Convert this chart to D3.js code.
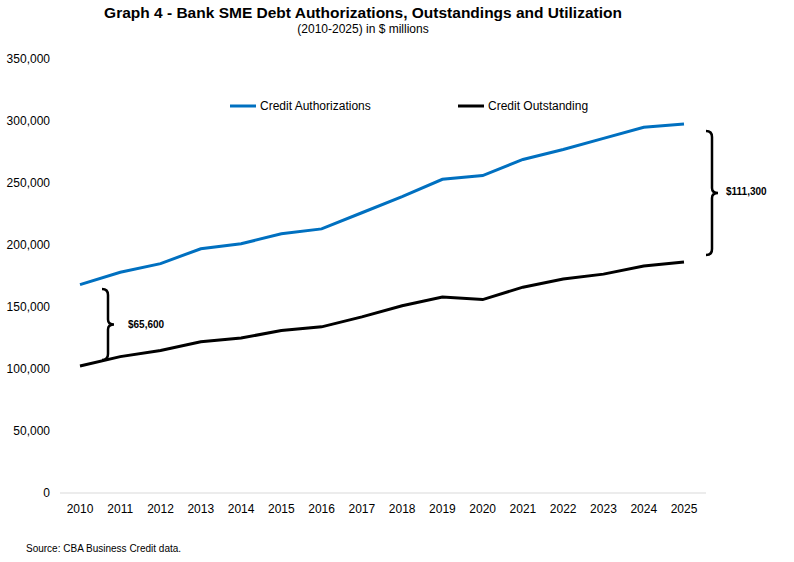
<!DOCTYPE html><html><head><meta charset="utf-8"><script src="https://cdn.jsdelivr.net/npm/d3@7"></script>
<style>body{margin:0;background:#fff;font-family:Arial,"Liberation Sans",sans-serif}</style></head><body><svg id="c" width="794" height="562"></svg>
<script>
const years=[2010,2011,2012,2013,2014,2015,2016,2017,2018,2019,2020,2021,2022,2023,2024,2025];
const authorizations=[168000,178000,185000,197000,201000,209000,213000,226000,239000,253000,256000,269000,277000,286000,295000,297500];
const outstanding=[102400,110000,115000,122000,125000,131000,134000,142000,151000,158000,156000,166000,172500,176500,183000,186200];
const yTicks=[0,50000,100000,150000,200000,250000,300000,350000];
const svg=d3.select("#c");
const x=d3.scalePoint().domain(years).range([80,684]);
const y=d3.scaleLinear().domain([0,350000]).range([493,59]);
svg.append("text").attr("x",363).attr("y",18).attr("text-anchor","middle").attr("font-size",15.5).attr("font-weight","bold").text("Graph 4 - Bank SME Debt Authorizations, Outstandings and Utilization");
svg.append("text").attr("x",363).attr("y",33).attr("text-anchor","middle").attr("font-size",12).text("(2010-2025)  in $ millions");
yTicks.forEach(t=>svg.append("text").attr("x",50).attr("y",y(t)+4).attr("text-anchor","end").attr("font-size",12).text(d3.format(",")(t)));
svg.append("line").attr("x1",60).attr("x2",706).attr("y1",493).attr("y2",493).attr("stroke","#d9d9d9");
years.forEach(v=>svg.append("text").attr("x",x(v)).attr("y",513).attr("text-anchor","middle").attr("font-size",12).text(v));
const line=d3.line().x((d,i)=>x(years[i])).y(d=>y(d));
svg.append("path").attr("d",line(authorizations)).attr("fill","none").attr("stroke","#0070c0").attr("stroke-width",3);
svg.append("path").attr("d",line(outstanding)).attr("fill","none").attr("stroke","#000").attr("stroke-width",3);
// legend
svg.append("line").attr("x1",230).attr("x2",256).attr("y1",106).attr("y2",106).attr("stroke","#0070c0").attr("stroke-width",3);
svg.append("text").attr("x",260).attr("y",110).attr("font-size",12).text("Credit Authorizations");
svg.append("line").attr("x1",458).attr("x2",484).attr("y1",106).attr("y2",106).attr("stroke","#000").attr("stroke-width",3);
svg.append("text").attr("x",488).attr("y",110).attr("font-size",12).text("Credit Outstanding");
// braces
function brace(xp,y1,y2,dir){const m=(y1+y2)/2,w=6*dir;
return `M${xp-w},${y1} Q${xp},${y1} ${xp},${y1+6} L${xp},${m-5} Q${xp},${m} ${xp+w},${m} Q${xp},${m} ${xp},${m+5} L${xp},${y2-6} Q${xp},${y2} ${xp-w},${y2}`;}
svg.append("path").attr("d",brace(108,289,360,1)).attr("fill","none").attr("stroke","#000").attr("stroke-width",2.5);
svg.append("text").attr("x",128).attr("y",328).attr("font-size",10).attr("font-weight","bold").text("$65,600");
svg.append("path").attr("d",brace(712,131,255,1)).attr("fill","none").attr("stroke","#000").attr("stroke-width",2.5);
svg.append("text").attr("x",726).attr("y",195).attr("font-size",10).attr("font-weight","bold").text("$111,300");
svg.append("text").attr("x",26).attr("y",552).attr("font-size",10).text("Source: CBA Business Credit data.");
</script></body></html>
